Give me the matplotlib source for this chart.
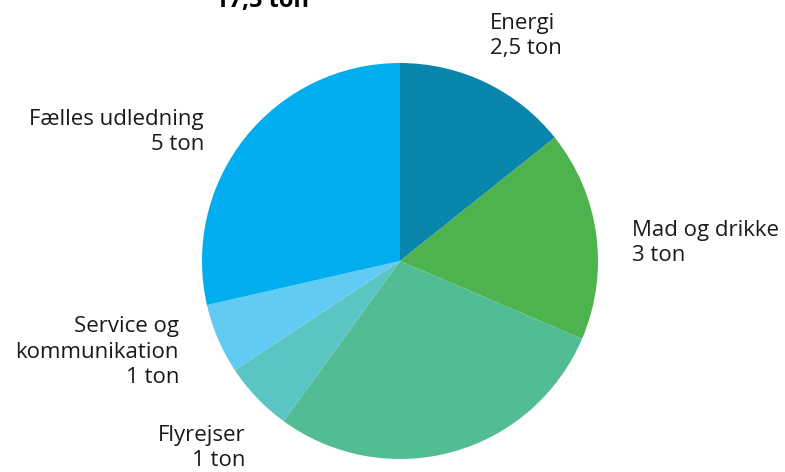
import matplotlib.pyplot as plt

plt.rcParams['font.family'] = ['Open Sans', 'DejaVu Sans']

# data (ton CO2 per slice, clockwise from top)
values = [2.5, 3, 5, 1, 1, 5]
colors = ['#0A86AD', '#4DB34F', '#52BC94', '#5AC5C2', '#62CBF3', '#00ADEE']
labels = ['Energi\n2,5 ton', 'Mad og drikke\n3 ton', '', 'Flyrejser\n1 ton',
          'Service og\nkommunikation\n1 ton', 'Fælles udledning\n5 ton']
total_label = '17,5 ton'

W, H = 785, 472
cx, cy, r = 400, 261, 198

fig = plt.figure(figsize=(W / 100, H / 100), dpi=100)
ax = fig.add_axes([(cx - r) / W, (H - cy - r) / H, 2 * r / W, 2 * r / H])
ax.pie(values, colors=colors, startangle=90, counterclock=False, radius=1,
       wedgeprops=dict(linewidth=0))
ax.set_xlim(-1, 1)
ax.set_ylim(-1, 1)
ax.set_aspect('equal')
ax.axis('off')


def px(x, y):
    # pixel position in the picture -> data coords of the pie
    return (x - cx) / r, (cy - y) / r


fs = 16
txt = dict(fontsize=fs, color='#1a1a1a', clip_on=False, linespacing=1.28)

x, y = px(262, 7)
ax.text(x, y, total_label, ha='center', va='baseline', fontsize=17,
        fontweight='bold', color='black', clip_on=False)

pos = {0: (490, 36, 'left'), 1: (632, 243, 'left'), 3: (245, 448, 'right'),
       4: (179, 352, 'right'), 5: (204, 132, 'right')}
for i, (lx, ly, ha) in pos.items():
    x, y = px(lx, ly)
    ax.text(x, y, labels[i], ha=ha, va='center', **txt)

fig.savefig('out.png', dpi=100)
